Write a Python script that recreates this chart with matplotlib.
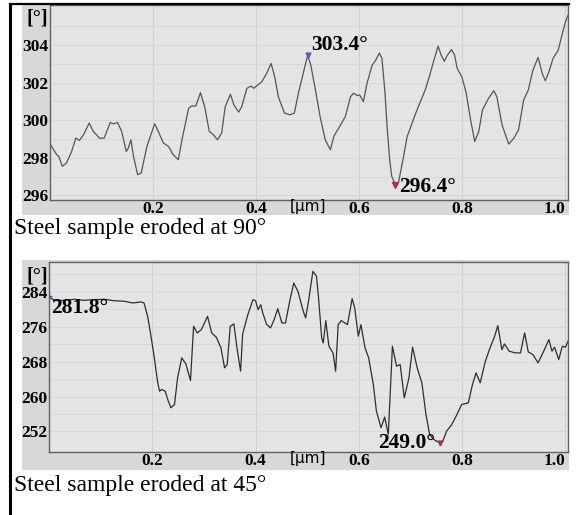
import matplotlib
matplotlib.use('Agg')
import matplotlib.pyplot as plt
from matplotlib.lines import Line2D
from matplotlib.patches import Rectangle

W, H = 577, 515

# panel 1: eroded at 90 deg
x90 = [0.002, 0.013, 0.017, 0.024, 0.032, 0.042, 0.050, 0.057, 0.065, 0.076,
       0.084, 0.096, 0.105, 0.117, 0.123, 0.131, 0.139, 0.148, 0.152, 0.157,
       0.162, 0.170, 0.177, 0.188, 0.203, 0.210, 0.220, 0.230, 0.239, 0.249,
       0.256, 0.269, 0.275, 0.283, 0.292, 0.300, 0.309, 0.317, 0.325, 0.333,
       0.340, 0.350, 0.357, 0.366, 0.372, 0.382, 0.390, 0.395, 0.403, 0.411,
       0.421, 0.429, 0.436, 0.443, 0.455, 0.466, 0.474, 0.482, 0.492, 0.500,
       0.506, 0.515, 0.524, 0.534, 0.544, 0.551, 0.564, 0.573, 0.583, 0.589,
       0.596, 0.601, 0.608, 0.615, 0.625, 0.632, 0.639, 0.644, 0.650, 0.654,
       0.659, 0.663, 0.670, 0.676, 0.686, 0.693, 0.699, 0.706, 0.712, 0.720,
       0.728, 0.735, 0.744, 0.753, 0.759, 0.765, 0.771, 0.779, 0.785, 0.790,
       0.799, 0.807, 0.816, 0.824, 0.832, 0.839, 0.851, 0.861, 0.867, 0.877,
       0.890, 0.900, 0.909, 0.919, 0.928, 0.937, 0.947, 0.955, 0.961, 0.968,
       0.976, 0.986, 0.994, 1.000, 1.005]
y90 = [298.66, 298.17, 298.08, 297.55, 297.73, 298.34, 299.05, 298.93, 299.23, 299.85,
       299.41, 299.05, 299.05, 299.88, 299.81, 299.88, 299.41, 298.34, 298.52, 298.96,
       298.08, 297.11, 297.20, 298.61, 299.81, 299.41, 298.79, 298.61, 298.17, 297.90,
       298.96, 300.64, 300.76, 300.76, 301.47, 300.73, 299.41, 299.23, 298.96, 299.32,
       300.73, 301.38, 300.81, 300.43, 300.73, 301.70, 301.82, 301.70, 301.87, 302.05,
       302.53, 303.02, 302.31, 301.25, 300.38, 300.29, 300.38, 301.44, 302.58, 303.46,
       302.93, 301.61, 300.20, 298.96, 298.43, 299.17, 299.76, 300.20, 301.25, 301.44,
       301.32, 301.34, 300.99, 301.96, 302.93, 303.20, 303.58, 303.29, 301.44, 299.67,
       297.90, 297.02, 296.58, 296.67, 298.08, 299.14, 299.58, 300.11, 300.55, 301.08,
       301.61, 302.23, 303.11, 303.94, 303.46, 303.14, 303.46, 303.76, 303.46, 302.76,
       302.31, 301.52, 300.02, 298.87, 299.41, 300.55, 301.17, 301.57, 301.25, 299.76,
       298.73, 299.05, 299.49, 301.08, 301.61, 302.67, 303.34, 302.49, 302.10, 302.58,
       303.29, 303.73, 304.61, 305.23, 305.58]

# panel 2: eroded at 45 deg
x45 = [0.000, 0.010, 0.029, 0.049, 0.068, 0.087, 0.107, 0.126, 0.146, 0.162,
       0.178, 0.184, 0.191, 0.197, 0.204, 0.210, 0.214, 0.218, 0.225, 0.231,
       0.236, 0.243, 0.249, 0.257, 0.265, 0.274, 0.280, 0.287, 0.295, 0.307,
       0.315, 0.324, 0.333, 0.340, 0.345, 0.351, 0.358, 0.364, 0.371, 0.375,
       0.385, 0.395, 0.400, 0.405, 0.410, 0.414, 0.421, 0.429, 0.436, 0.443,
       0.451, 0.458, 0.466, 0.474, 0.482, 0.492, 0.497, 0.503, 0.511, 0.518,
       0.522, 0.528, 0.531, 0.536, 0.542, 0.550, 0.555, 0.560, 0.566, 0.573,
       0.578, 0.587, 0.592, 0.599, 0.604, 0.612, 0.619, 0.628, 0.634, 0.643,
       0.650, 0.657, 0.665, 0.673, 0.680, 0.688, 0.697, 0.704, 0.713, 0.722,
       0.730, 0.737, 0.744, 0.750, 0.757, 0.763, 0.770, 0.780, 0.790, 0.799,
       0.812, 0.820, 0.827, 0.835, 0.845, 0.854, 0.863, 0.869, 0.877, 0.882,
       0.891, 0.903, 0.913, 0.921, 0.928, 0.937, 0.947, 0.958, 0.968, 0.974,
       0.979, 0.987, 0.994, 1.000, 1.005]
y45 = [282.95, 281.94, 282.03, 282.26, 282.03, 282.17, 282.26, 281.94, 281.81, 281.42,
       281.65, 281.42, 278.37, 274.17, 268.85, 263.52, 261.23, 261.60, 261.23, 258.95,
       257.42, 258.17, 264.27, 268.85, 267.47, 263.66, 276.09, 274.56, 275.31, 278.37,
       274.56, 273.58, 271.13, 266.56, 267.32, 276.09, 276.62, 271.13, 265.81, 274.33,
       278.74, 282.17, 281.94, 279.89, 281.03, 279.13, 276.62, 275.70, 277.60, 280.11,
       276.85, 276.85, 281.81, 285.99, 284.09, 279.66, 277.99, 282.17, 288.66, 287.52,
       282.56, 273.42, 272.27, 277.37, 271.52, 269.99, 265.81, 276.46, 277.37, 276.85,
       276.46, 282.40, 280.27, 273.80, 276.46, 271.13, 268.85, 262.74, 256.66, 252.85,
       255.29, 251.31, 271.52, 266.95, 267.32, 259.70, 264.27, 271.29, 266.56, 263.13,
       255.89, 251.31, 250.30, 249.80, 249.40, 249.90, 252.09, 253.60, 255.89, 258.17,
       258.56, 262.74, 265.42, 263.13, 268.09, 271.13, 273.80, 276.23, 270.74, 272.05,
       270.38, 269.99, 269.99, 274.56, 270.22, 269.60, 267.70, 270.38, 273.03, 270.38,
       271.29, 268.46, 271.52, 271.29, 272.66]

xticks = [0.2, 0.4, 0.6, 0.8, 1.0]
yticks90 = [296, 298, 300, 302, 304]
yticks45 = [252, 260, 268, 276, 284]
grid45 = [252, 256, 260, 264, 268, 272, 276, 280, 284, 288]

SERIF = 'Liberation Serif'


def fx(px):
    return px / W


def fy(py):
    return 1 - py / H


def panel(fig, box, bg_box, x, y, ylim, yticks, ygrid, color, caption, cap_y):
    # grey frame behind the plot, like the instrument screenshot
    l, t, r, b = bg_box
    fig.add_artist(Rectangle((fx(l), fy(b)), fx(r - l), (b - t) / H,
                             facecolor='#d8d8d8', edgecolor='none', zorder=0))
    l, t, r, b = box
    ax = fig.add_axes([fx(l), fy(b), fx(r - l), (b - t) / H])
    ax.set_facecolor('#e4e4e4')
    for s in ax.spines.values():
        s.set_color('#606060')
        s.set_linewidth(1.0)
    for gx in xticks:
        ax.axvline(gx, color='#d2d2d2', lw=0.7, zorder=0)
    for gy in ygrid:
        ax.axhline(gy, color='#d6d6d6', lw=0.6, zorder=0)
    ax.plot(x, y, color=color, lw=0.9)
    ax.set_xlim(0, 1.005)
    ax.set_ylim(*ylim)
    ax.set_xticks(xticks)
    ax.set_xticklabels(['0.2', '0.4', '0.6', '0.8', '1.0'])
    ax.set_yticks(yticks)
    ax.set_yticklabels([str(v) for v in yticks])
    ax.tick_params(length=0, pad=1)
    for lab in ax.get_xticklabels() + ax.get_yticklabels():
        lab.set_fontfamily(SERIF)
        lab.set_fontweight('bold')
        lab.set_fontsize(12.5)
    ax.get_xticklabels()[-1].set_horizontalalignment('right')
    fig.text(fx(37), fy(t + 14), '[°]', family=SERIF, weight='bold', fontsize=14.5,
             ha='center', va='center')
    fig.text(fx(308), fy(b + 7), '[µm]', family='DejaVu Sans', fontsize=11,
             ha='center', va='center')
    fig.text(fx(14), fy(cap_y), caption, family=SERIF, fontsize=17,
             ha='left', va='center')
    return ax


fig = plt.figure(figsize=(W / 100, H / 100), dpi=100)

ax1 = panel(fig, (50, 5, 568, 200), (22, 5, 569, 215), x90, y90, (295.76, 306.13),
            yticks90, [297, 299, 301, 303, 305] + yticks90, '#555555',
            'Steel sample eroded at 90°', 229)
i_max = x90.index(0.500)
i_min = y90.index(min(y90))
ax1.plot(x90[i_max], y90[i_max], 'v', color='#5a5aa8', ms=3.5)
ax1.plot(x90[i_min], y90[i_min], 'v', color='#b03048', ms=4)
ax1.annotate('303.4°', (x90[i_max], y90[i_max]), xytext=(3, 10), textcoords='offset pixels',
             family=SERIF, weight='bold', fontsize=15.5, ha='left', va='center')
ax1.annotate('296.4°', (x90[i_min], y90[i_min]), xytext=(4, -2), textcoords='offset pixels',
             family=SERIF, weight='bold', fontsize=15.5, ha='left', va='center')

ax2 = panel(fig, (49, 262, 568, 452), (22, 260, 569, 470), x45, y45, (247.3, 290.8),
            yticks45, grid45, '#2e2e2e', 'Steel sample eroded at 45°', 485)
j_min = y45.index(min(y45))
ax2.plot(x45[0], y45[0], '+', color='#5a5aa8', ms=4, mew=1)
ax2.plot(x45[j_min], y45[j_min], 'v', color='#b03048', ms=3.5)
ax2.annotate('281.8°', (x45[0], y45[0]), xytext=(2, -12), textcoords='offset pixels',
             family=SERIF, weight='bold', fontsize=15.5, ha='left', va='center')
ax2.annotate('249.0°', (x45[j_min], y45[j_min]), xytext=(-5, 0), textcoords='offset pixels',
             family=SERIF, weight='bold', fontsize=15.5, ha='right', va='center')

# frame lines on the left and top of the figure
fig.add_artist(Line2D([fx(10), fx(10)], [0, fy(4)], color='black', lw=2.2))
fig.add_artist(Line2D([fx(10), fx(569)], [fy(4), fy(4)], color='black', lw=1.6))

fig.savefig('out.png', dpi=100)
